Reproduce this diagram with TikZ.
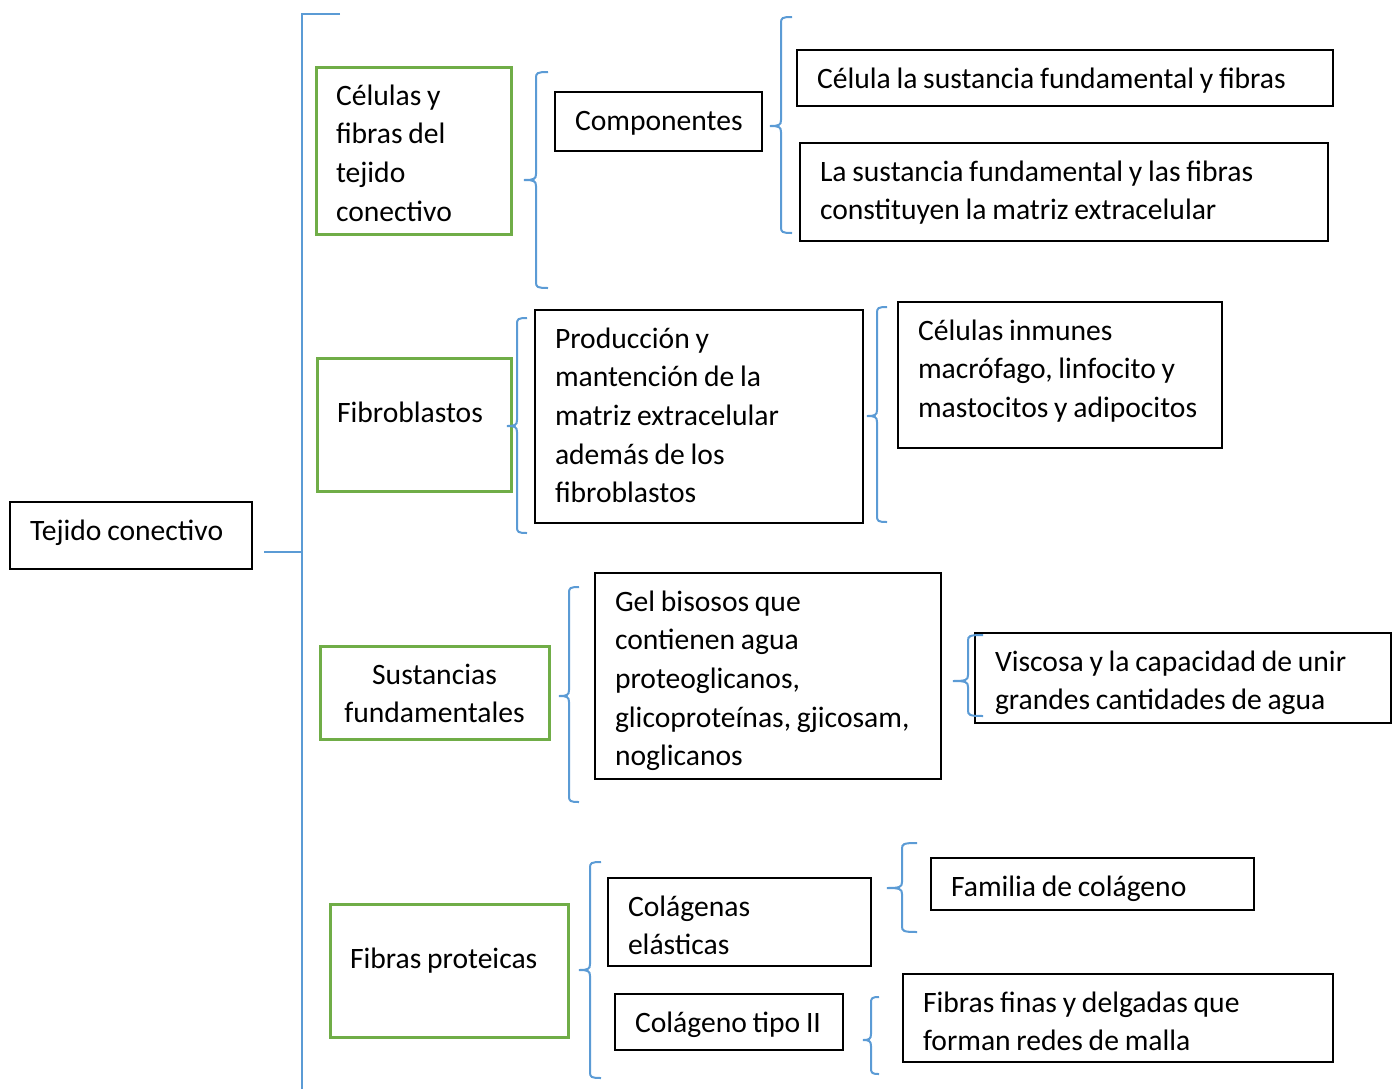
\documentclass[tikz,border=0pt]{standalone}
\usepackage{fontspec}
\setmainfont{Carlito}[WordSpace=0.86]
\definecolor{wordblue}{HTML}{5B9BD5}
\definecolor{wordgreen}{HTML}{70AD47}
% box text: [top strut]{height}{width}{text}
\newcommand\cell[4][38]{\parbox[c][#2pt][t]{\dimexpr#3pt-40pt\relax}{\raggedright\rightskip=-12pt plus 1fil\relax\rule{0pt}{#1pt}#4}}
\tikzset{
	blackbox/.style={draw=black, line width=1.5pt, inner xsep=20pt, inner ysep=0pt, font=\fontsize{29.6}{38.7}\selectfont},
	greenbox/.style={blackbox, draw=wordgreen, line width=3pt},
	brace/.style={draw=wordblue, line width=2pt}
}
\begin{document}
\begin{tikzpicture}[x=1pt, y=-1pt]
	\useasboundingbox (0,0) rectangle (1392,1088);
	
	% main stem
	\node[blackbox] (tejido) at (131,535.5) {\cell{67}{242}{Tejido conectivo}};
	\coordinate (stemin) at (264,552);
	\coordinate (stem) at (302,552);
	\coordinate (stemtop) at (302,14);
	\coordinate (stemtick) at (340,14);
	\coordinate (stemend) at (302,1092);
	\draw[brace] (stemin) -- (stem);
	\draw[brace] (stemtick) -- (stemtop) -- (stemend);
	
	% green boxes
	\node[greenbox] (celulas) at (413.5,150.5) {\cell{167}{195}{Células y\\fibras del\\tejido\\conectivo}};
	\node[greenbox] (fibroblastos) at (414,424.5) {\cell[64]{133}{194}{Fibroblastos}};
	\node[greenbox] (sustancias) at (434.5,692.5) {\cell{93}{229}{\centering Sustancias\\fundamentales}};
	\node[greenbox] (fibras) at (449,970.5) {\cell[64]{133}{238}{Fibras proteicas}};
	
	% black boxes
	\node[blackbox] (componentes) at (658.5,121.5) {\cell{59}{207}{Componentes}};
	\node[blackbox] (celula) at (1065,78) {\cell{56}{536}{Célula la sustancia fundamental y fibras}};
	\node[blackbox] (matriz) at (1064,192) {\cell{98}{528}{La sustancia fundamental y las fibras\\constituyen la matriz extracelular}};
	\node[blackbox] (produccion) at (699,416.5) {\cell{213}{328}{Producción y\\mantención de la\\matriz extracelular\\además de los\\fibroblastos}};
	\node[blackbox] (inmunes) at (1060,375) {\cell{146}{324}{Células inmunes\\macrófago, linfocito y\\mastocitos y adipocitos}};
	\node[blackbox] (gel) at (768,676) {\cell{206}{346}{Gel bisosos que\\contienen agua\\proteoglicanos,\\glicoproteínas, gjicosam,\\noglicanos}};
	\node[blackbox] (viscosa) at (1183,678) {\cell{90}{416}{Viscosa y la capacidad de unir\\grandes cantidades de agua}};
	\node[blackbox] (familia) at (1092.5,884) {\cell{52}{323}{Familia de colágeno}};
	\node[blackbox] (colagenas) at (739.5,922) {\cell{88}{263}{Colágenas\\elásticas}};
	\node[blackbox] (tipodos) at (729,1022) {\cell{56}{228}{Colágeno tipo II}};
	\node[blackbox] (finas) at (1118,1018) {\cell{88}{430}{Fibras finas y delgadas que\\forman redes de malla}};
	
	% braces
	\foreach \x/\t/\b/\tx/\m in {
		536/72/288/524/180,
		781/17/233/770/126,
		517/318/533/507/426,
		877/307/522/867/416,
		569/587/802/559/696,
		968/635/716/953/681,
		590/862/1078/579/970,
		902/843/932/887/888,
		871/997/1074/863/1040}
	{
		\pgfmathsetmacro\h{\x-\tx}
		\draw[brace] ({\x+\h},\t) .. controls ({\x+1},\t) and (\x,{\t+1}) .. (\x,{\t+6})
			-- (\x,{\m-6}) .. controls (\x,{\m-1}) and ({\x-2},\m) .. (\tx,\m)
			.. controls ({\x-2},\m) and (\x,{\m+1}) .. (\x,{\m+6})
			-- (\x,{\b-6}) .. controls (\x,{\b-1}) and ({\x+1},\b) .. ({\x+\h},\b);
	};
	
\end{tikzpicture}
\end{document}
